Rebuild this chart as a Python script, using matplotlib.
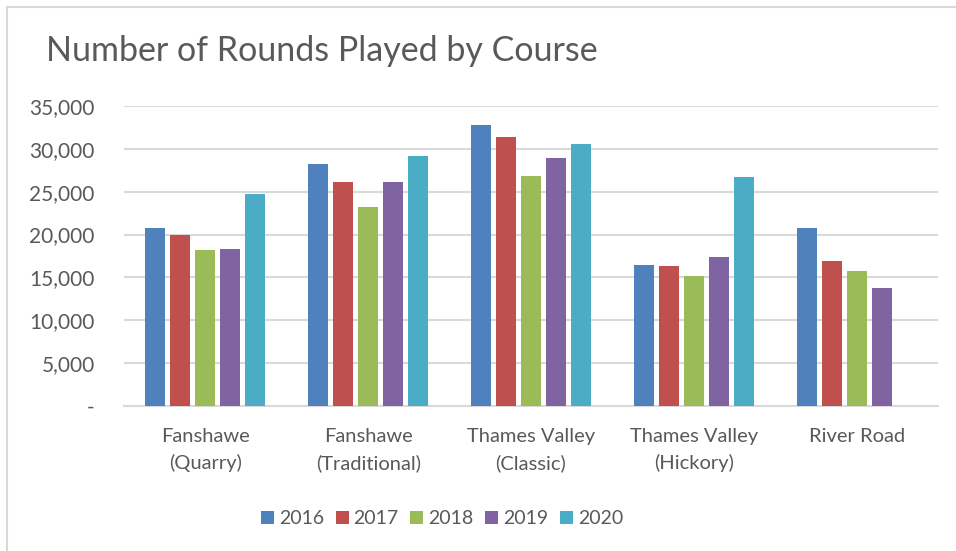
import numpy as np
import matplotlib.pyplot as plt
from matplotlib.lines import Line2D

courses = ['Fanshawe\n(Quarry)', 'Fanshawe\n(Traditional)', 'Thames Valley\n(Classic)',
           'Thames Valley\n(Hickory)', 'River Road']
years = ['2016', '2017', '2018', '2019', '2020']
r2016 = [20750, 28200, 32750, 16400, 20800]
r2017 = [19950, 26100, 31350, 16300, 16950]
r2018 = [18200, 23200, 26800, 15150, 15700]
r2019 = [18300, 26100, 28900, 17350, 13750]
r2020 = [24700, 29150, 30550, 26750, np.nan]
colors = ['#4f81bd', '#c0504d', '#9bbb59', '#8064a2', '#4bacc6']

plt.rcParams['font.family'] = ['Lato', 'DejaVu Sans']
txt = '#595959'
W, H = 956, 551

fig = plt.figure(figsize=(W/100, H/100), dpi=100)
ax = fig.add_axes([124/W, 1-406/H, (938-124)/W, 300/H])

x = np.arange(len(courses))
slot = 25/162.8
bw = 20/162.8
for j, vals in enumerate([r2016, r2017, r2018, r2019, r2020]):
    ax.bar(x + (j-2)*slot, vals, bw, color=colors[j], label=years[j], zorder=3)

ax.set_xlim(-0.5, 4.5)
ax.set_ylim(0, 35000)
yt = np.arange(0, 35001, 5000)
ax.set_yticks(yt)
ax.set_yticklabels(['-'] + ['{:,}'.format(v) for v in yt[1:]])
ax.set_xticks(x)
ax.set_xticklabels(courses, linespacing=1.6)
ax.tick_params(axis='y', length=0, pad=21, labelsize=15, labelcolor=txt)
ax.tick_params(axis='x', length=0, pad=16, labelsize=14.5, labelcolor=txt)
ax.grid(axis='y', color='#d9d9d9', lw=1.5, zorder=0)
for s in ['top', 'right', 'left']:
    ax.spines[s].set_visible(False)
ax.spines['bottom'].set_color('#d9d9d9')
ax.spines['bottom'].set_linewidth(1.5)

fig.text(46/W, 1-51/H, 'Number of Rounds Played by Course', fontsize=24.5,
         color=txt, va='center', ha='left')

fig.legend(loc='center', bbox_to_anchor=(442/W, 1-519/H), ncol=5, frameon=False,
           fontsize=14, labelcolor=txt, handlelength=0.67, handleheight=0.67,
           handletextpad=0.25, columnspacing=0.6)

# chart border (right/bottom edges are cut off in the screenshot)
fig.add_artist(Line2D([7/W, 7/W], [0, 1-7/H], color='#d9d9d9', lw=1.5))
fig.add_artist(Line2D([7/W, 1], [1-7/H, 1-7/H], color='#d9d9d9', lw=1.5))

fig.savefig('out.png', dpi=100)
